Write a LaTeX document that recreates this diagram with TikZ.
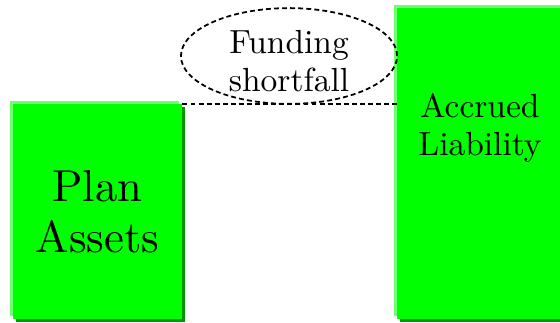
\documentclass[tikz,border=0pt]{standalone}
\usepackage{fontspec}
\setmainfont{lmroman10-regular.otf}
\usetikzlibrary{shapes.geometric, shadows}
\definecolor{barfill}{RGB}{0,255,0}
\definecolor{barlight}{RGB}{110,255,110}
\definecolor{bardark}{RGB}{0,150,0}
\tikzstyle{bar} = [rectangle, inner sep=0pt, minimum width=3.02cm, text centered, align=center, fill=barfill, general shadow={fill=barlight, shadow xshift=-0.054cm, shadow yshift=0.054cm}, general shadow={fill=bardark, shadow xshift=0.054cm, shadow yshift=-0.054cm}]
\tikzstyle{gapoval} = [ellipse, draw, line width=0.9pt, dash pattern=on 2.5pt off 1.6pt, minimum width=3.86cm, minimum height=1.71cm, inner sep=0pt]
\tikzstyle{midtext} = [align=center, inner sep=0pt, font=\fontsize{17}{19.3}\selectfont]
\tikzstyle{gapline} = [line width=1pt, dash pattern=on 2.5pt off 1.6pt]

\begin{document}
\begin{tikzpicture}
            \useasboundingbox (0,0) rectangle (10,5.75);
            \node [bar, minimum height=3.84cm, font=\fontsize{22.7}{26}\selectfont] at (1.741,1.973) (plan) {Plan\\Assets};
            \node [bar, minimum height=5.553cm] at (8.6,2.83) (liab) {};
            \node [midtext] at (8.571,3.464) (liabtext) {Accrued\\Liability};
            \node [gapoval] at (5.161,4.75) (gap) {};
            \node [midtext] at (5.161,4.661) (gaptext) {Funding\\shortfall};

            \draw [gapline] (plan.north east) -- (liab.west |- plan.north east);
            \end{tikzpicture}
\end{document}
